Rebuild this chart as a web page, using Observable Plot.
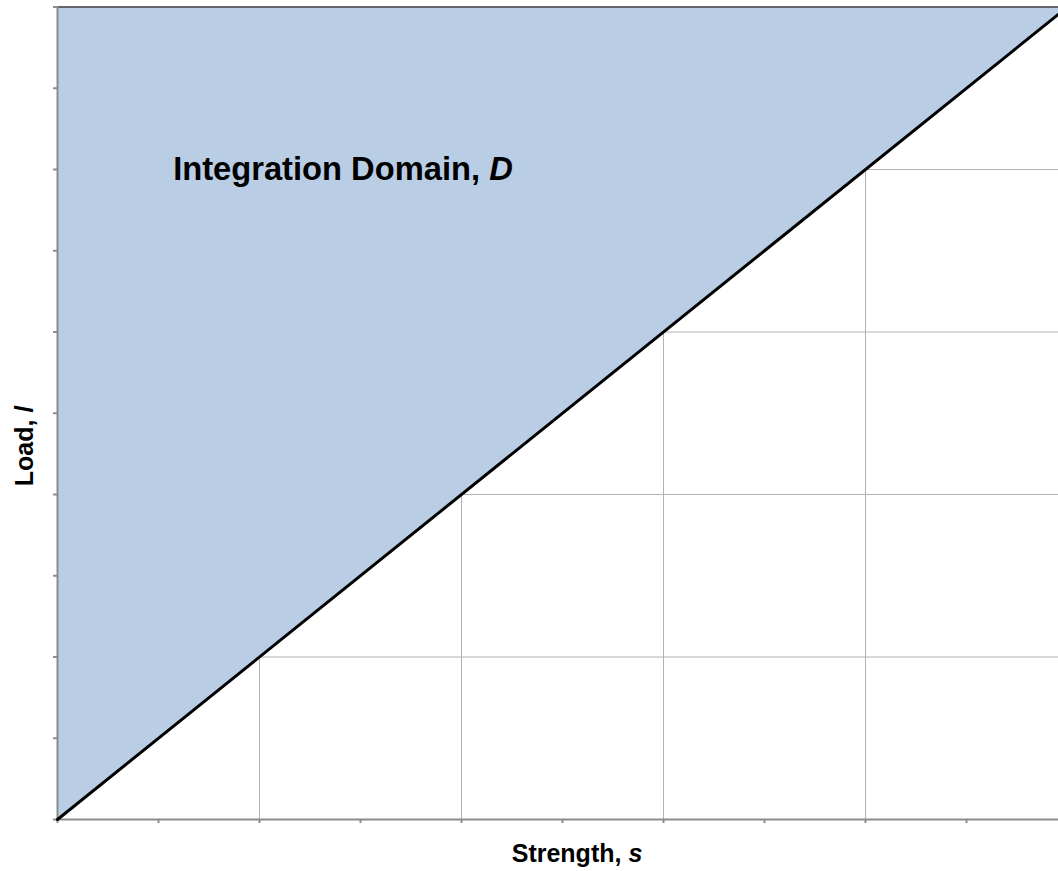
<!DOCTYPE html>
<html>
<head>
<meta charset="utf-8">
<script src="https://cdn.jsdelivr.net/npm/d3@7"></script>
<script src="https://cdn.jsdelivr.net/npm/@observablehq/plot@0.6"></script>
<style>
  html, body { margin: 0; padding: 0; background: #fff; overflow: hidden; }
  #chart svg { display: block; overflow: hidden; }
</style>
</head>
<body>
<div id="chart"></div>
<script>
// Data
const strength = [0, 5];          // s values along the limit-state line
const load = [0, 5];              // l values (l = s)
const gridTicks = [1, 2, 3, 4];   // major gridlines
const axisTicks = [0, 0.5, 1, 1.5, 2, 2.5, 3, 3.5, 4, 4.5, 5];
const domainMax = 5;

const diag = strength.map((s, i) => ({s, l: load[i]}));

const W = 1058, H = 871;
const FONT = "'Liberation Sans', Arial, Helvetica, sans-serif";

const plot = Plot.plot({
  width: W,
  height: H,
  marginLeft: 57,
  marginTop: 6,
  marginBottom: 52,
  marginRight: 0,
  style: {fontFamily: FONT, background: "#fff", overflow: "hidden"},
  x: {domain: [0, domainMax], range: [57, 1067]},
  y: {domain: [0, domainMax], range: [819, 6.5]},
  marks: [
    Plot.gridX(gridTicks, {stroke: "#b3b3b3", strokeOpacity: 1, strokeWidth: 1}),
    Plot.gridY(gridTicks, {stroke: "#b3b3b3", strokeOpacity: 1, strokeWidth: 1}),
    Plot.areaY(diag, {x: "s", y1: "l", y2: () => domainMax, fill: "#b9cde5", fillOpacity: 1}),
    Plot.ruleY([domainMax], {stroke: "#404040", strokeWidth: 1.5}),
    Plot.axisX(axisTicks, {tickSize: 4, tickFormat: () => "", stroke: "#8c8c8c", strokeWidth: 2, label: null}),
    Plot.axisY(axisTicks, {tickSize: 4, tickFormat: () => "", stroke: "#8c8c8c", strokeWidth: 2, label: null}),
    Plot.ruleY([0], {stroke: "#8c8c8c", strokeWidth: 2}),
    Plot.ruleX([0], {stroke: "#8c8c8c", strokeWidth: 2}),
    Plot.line(diag, {x: "s", y: "l", stroke: "#000", strokeWidth: 3})
  ]
});

document.getElementById("chart").appendChild(plot);

// Text labels with mixed italic parts
const svg = d3.select(plot);
const xs = plot.scale("x"), ys = plot.scale("y");

function label(parent, parts, attrs) {
  const t = parent.append("text")
    .attr("font-family", FONT)
    .attr("font-weight", "bold")
    .attr("fill", "#000");
  for (const [k, v] of Object.entries(attrs)) t.attr(k, v);
  for (const [txt, italic] of parts) {
    const sp = t.append("tspan").text(txt);
    if (italic) sp.attr("font-style", "italic");
  }
  return t;
}

// Region label
label(svg, [["Integration Domain, ", false], ["D", true]], {
  x: xs.apply(0.575), y: ys.apply(3.93), "font-size": 32.7, "text-anchor": "start"
});

// X axis label
label(svg, [["Strength, ", false], ["s", true]], {
  x: 577, y: 862, "font-size": 25, "text-anchor": "middle"
});

// Y axis label
label(svg, [["Load, ", false], ["l", true]], {
  transform: "translate(33,446) rotate(-90)", "font-size": 25, "text-anchor": "middle"
});
</script>
</body>
</html>
